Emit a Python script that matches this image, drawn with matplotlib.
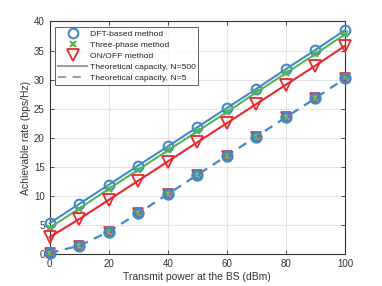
import numpy as np
import matplotlib
matplotlib.use('Agg')
import matplotlib.pyplot as plt
from matplotlib.lines import Line2D

plt.rcParams['font.family'] = ['Liberation Sans', 'DejaVu Sans']

power = [0, 10, 20, 30, 40, 50, 60, 70, 80, 90, 100]
dft = [5.3, 8.6, 11.9, 15.2, 18.5, 21.8, 25.1, 28.4, 31.8, 35.1, 38.5]
three = [4.5, 7.8, 11.2, 14.5, 17.8, 21.1, 24.4, 27.8, 31.1, 34.4, 37.8]
onoff = [2.9, 6.0, 9.3, 12.6, 15.9, 19.2, 22.5, 25.8, 29.1, 32.4, 35.8]
small_n = [0.2, 1.4, 3.85, 7.0, 10.3, 13.6, 16.9, 20.2, 23.5, 26.8, 30.2]

blue = '#4488c5'
green = '#55b455'
red = '#e8282d'
gray = '#a0a0a0'

fig = plt.figure(figsize=(3.82, 2.86), dpi=100)
ax = fig.add_axes([0.130, 0.112, 0.773, 0.813])

ax.plot(power, dft, '-o', color=blue, lw=1.5, ms=7, mfc='none', mew=1.5, zorder=3, clip_on=False)
ax.plot(power, three, '-x', color=green, lw=1.5, ms=5, mew=1.5, zorder=3, clip_on=False)
ax.plot(power, onoff, '-v', color=red, lw=1.5, ms=8, mfc='none', mew=1.3, zorder=3, clip_on=False)
ax.plot(power, small_n, '--', color=blue, lw=1.6, dashes=(4, 3), zorder=3)
ax.plot(power, small_n, 'v', color=red, ms=7, mfc='none', mew=1.2, zorder=4, clip_on=False)
ax.plot(power, small_n, 'o', color=blue, ms=6.5, mfc='none', mew=2.4, zorder=5, clip_on=False)
ax.plot(power, small_n, 'x', color=green, ms=3.5, mew=1.2, zorder=6, clip_on=False)

ax.set_xlim(0, 100)
ax.set_ylim(0, 40)
ax.set_xticks(range(0, 101, 20))
ax.set_yticks(range(0, 41, 5))
ax.grid(True, color='#e3e3e3', lw=0.8)
ax.set_axisbelow(True)
for s in ax.spines.values():
    s.set_color('#333333')
    s.set_linewidth(0.8)
ax.tick_params(labelsize=7, colors='#333333', direction='in', length=3, width=0.6,
               top=True, right=True)
ax.set_xlabel('Transmit power at the BS (dBm)', fontsize=7.5, color='#333333', labelpad=2)
ax.set_ylabel('Achievable rate (bps/Hz)', fontsize=7.5, color='#333333', labelpad=2)

handles = [
    Line2D([], [], ls='none', marker='o', color=blue, ms=7, mfc='none', mew=1.5),
    Line2D([], [], ls='none', marker='x', color=green, ms=5, mew=1.5),
    Line2D([], [], ls='none', marker='v', color=red, ms=8, mfc='none', mew=1.3),
    Line2D([], [], ls='-', color=gray, lw=1.5),
    Line2D([], [], ls='--', color=gray, lw=1.5, dashes=(4, 3)),
]
labels = ['DFT-based method', 'Three-phase method', 'ON/OFF method',
          'Theoretical capacity, N=500', 'Theoretical capacity, N=5']
leg = ax.legend(handles, labels, loc='upper left', bbox_to_anchor=(0.019, 0.976),
                fontsize=6.1, frameon=True, fancybox=False, edgecolor='#333333',
                handlelength=3.5, handletextpad=0.3, labelspacing=0.38,
                borderpad=0.3, borderaxespad=0.0)
leg.get_frame().set_linewidth(0.7)
for t in leg.get_texts():
    t.set_color('#222222')

fig.savefig('out.png', dpi=100)
